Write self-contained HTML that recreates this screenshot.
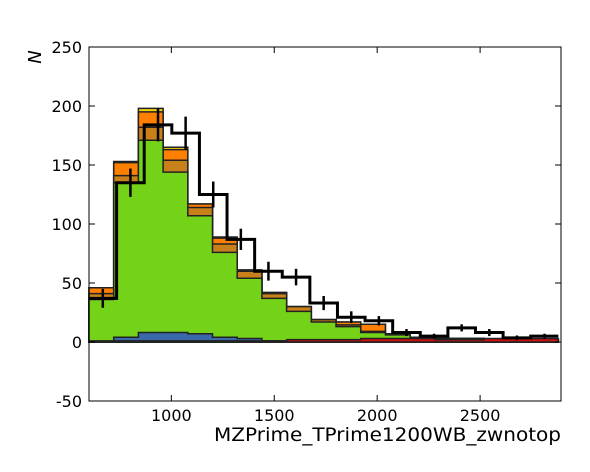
<!DOCTYPE html>
<html><head><meta charset="utf-8"><style>
html,body{margin:0;padding:0;background:#fff;width:590px;height:472px;overflow:hidden}
svg text{font-family:"DejaVu Sans","Liberation Sans",sans-serif}
</style></head><body>
<svg id="c" width="590" height="472"></svg>
<script>
const stackEdges0=600, stackW=120;
const red=[1,1,1,1,1,1,1,1,2,2,2,3,3,3,2,2,3,3,3];
const blue=[0,4,8,8,7,4,3,1,0,0,0,0,0,0,0,0,0,0,0];
const green=[36,135,171,144,107,76,54,37,26,17,13,8,6,4,3,3,2,2,2];
const brown=[41,141,182,154,114,83,60,41,30,19,14.5,9,7,4,3,3,2,2,2];
const orange=[46,152,195,163,117,88,61,42,30,19,17,15,7,4,3,3,2,2,2];
const yellow=[46,153,198,165,117,89,61,42,30,19,17,15,7,4,3,3,2,2,2];
const dataLo=600, dataHi=2880;
const dataVals=[37,135,184,177,125,87,60,55,33,21,18,8,5,12,8,3.5,5];
const dataErr=[8,12,14,14,11,9,8,7,6,5,4,3,2,3,3,2,2];
const yTicks=[-50,0,50,100,150,200,250];
const xTicks=[1000,1500,2000,2500];
const L=89,R=561,T=47,B=401,xmin=600,xmax=2893,ymin=-50,ymax=250;
const X=v=>L+(v-xmin)/(xmax-xmin)*(R-L);
const Y=v=>B-(v-ymin)/(ymax-ymin)*(B-T);
const svg=document.getElementById('c');const NS='http://www.w3.org/2000/svg';
function mk(t,a){const e=document.createElementNS(NS,t);for(const k in a)e.setAttribute(k,a[k]);svg.appendChild(e);return e;}
function layer(vals,fill,name){
  let d='M'+X(stackEdges0)+','+Y(0);
  vals.forEach((v,i)=>{const x0=X(stackEdges0+i*stackW),x1=X(stackEdges0+(i+1)*stackW);d+=' L'+x0+','+Y(v)+' L'+x1+','+Y(v);});
  d+=' L'+X(stackEdges0+vals.length*stackW)+','+Y(0)+'Z';
  const p=mk('path',{d:d,fill:fill,stroke:'#222','stroke-width':1.5});
  
  
}
layer(yellow,'#f2d400','stack-yellow');
layer(orange,'#ff7f00','stack-orange');
layer(brown,'#c8801a','stack-brown');
layer(green,'#74d219','stack-green');
layer(blue,'#3a68a8','stack-blue');
layer(red,'#cc1010','stack-red');
const dw=(dataHi-dataLo)/dataVals.length;
let d='';
dataVals.forEach((v,i)=>{const x0=X(dataLo+i*dw),x1=X(dataLo+(i+1)*dw);d+=(i?' L':'M')+x0+','+Y(v)+' L'+x1+','+Y(v);});
const dp=mk('path',{d:d,fill:'none',stroke:'#000','stroke-width':3});


dataVals.forEach((v,i)=>{const xc=X(dataLo+(i+0.5)*dw);
  const e=mk('line',{x1:xc,x2:xc,y1:Y(v-dataErr[i]),y2:Y(v+dataErr[i]),stroke:'#000','stroke-width':2.5});
  
  
});
const fr=mk('rect',{x:L,y:T,width:R-L,height:B-T,fill:'none',stroke:'#000','stroke-width':1});


yTicks.forEach(t=>{const y=Y(t);
  mk('line',{x1:L,x2:L+6,y1:y,y2:y,stroke:'#000'});mk('line',{x1:R,x2:R-6,y1:y,y2:y,stroke:'#000'});
  const tx=mk('text',{x:L-7,y:y+6,'text-anchor':'end','font-size':16});tx.textContent=t;
  
  
});
xTicks.forEach(t=>{const x=X(t);
  mk('line',{x1:x,x2:x,y1:B,y2:B-6,stroke:'#000'});mk('line',{x1:x,x2:x,y1:T,y2:T+6,stroke:'#000'});
  const tx=mk('text',{x:x,y:B+20,'text-anchor':'middle','font-size':16});tx.textContent=t;
  
  
});
const yl=mk('text',{x:0,y:0,transform:'translate(41,57) rotate(-90)','font-size':18,'font-style':'italic','font-family':'DejaVu Serif,serif','text-anchor':'middle'});
yl.textContent='N';


const xl=mk('text',{x:561,y:441,'text-anchor':'end','font-size':19,textLength:347,lengthAdjust:'spacingAndGlyphs'});
xl.textContent='MZPrime_TPrime1200WB_zwnotop';


</script>
</body></html>
